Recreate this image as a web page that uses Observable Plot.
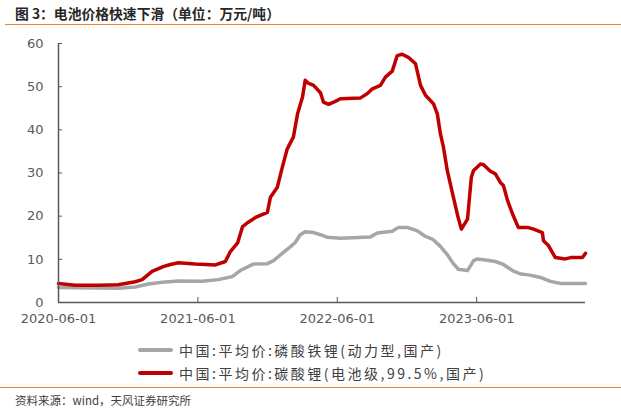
<!DOCTYPE html>
<html>
<head>
<meta charset="utf-8">
<script src="https://cdn.jsdelivr.net/npm/d3@7"></script>
<script src="https://cdn.jsdelivr.net/npm/@observablehq/plot@0.6"></script>
<style>
  html, body { margin: 0; padding: 0; background: #fff; }
  body { position: relative; width: 621px; height: 414px; overflow: hidden; font-family: "Noto Sans CJK SC", sans-serif; }
  #title { position: absolute; left: 15px; top: 3px; font-size: 13.8px; font-weight: bold; color: #262626; white-space: nowrap; }
  #topline { position: absolute; left: 5px; right: 0; top: 24px; height: 0; border-top: 1.5px solid #E8842F; }
  #chart { position: absolute; left: 0; top: 27px; }
  .leg { position: absolute; left: 138px; height: 20px; display: flex; align-items: center; white-space: nowrap; }
  .sw { width: 35px; height: 4px; margin-right: 6px; border-radius: 2px; }
  .lt { font-size: 14px; letter-spacing: 2.5px; color: #404040; }
  #botline { position: absolute; left: 0; right: 0; top: 387px; height: 0; border-top: 1.5px solid #E8842F; }
  #source { position: absolute; left: 15px; top: 392px; font-size: 11.5px; color: #404040; white-space: nowrap; }
</style>
</head>
<body>
<div id="title">图 3：电池价格快速下滑（单位：万元/吨）</div>
<div id="topline"></div>
<div id="chart"></div>
<div class="leg" style="top:340px"><div class="sw" style="background:#A6A6A6"></div><span class="lt" id="l1"></span></div>
<div class="leg" style="top:363px"><div class="sw" style="background:#C00000"></div><span class="lt" id="l2"></span></div>
<div id="botline"></div>
<div id="source">资料来源：wind，天风证券研究所</div>
<script>
// ---- data ----
const seriesNames = ["中国:平均价:磷酸铁锂(动力型,国产)", "中国:平均价:碳酸锂(电池级,99.5%,国产)"];
const seriesColors = ["#A6A6A6", "#C00000"];

const lfpDates = ["2020-06-01","2020-11-04","2020-12-19","2021-01-22","2021-02-28","2021-04-11","2021-06-12","2021-07-24","2021-08-30","2021-09-20","2021-10-24","2021-11-30","2021-12-16","2022-01-11","2022-01-29","2022-02-11","2022-02-24","2022-03-09","2022-03-31","2022-04-18","2022-05-06","2022-06-09","2022-08-27","2022-09-14","2022-10-23","2022-11-08","2022-12-01","2022-12-28","2023-01-18","2023-02-05","2023-02-26","2023-03-16","2023-04-01","2023-04-14","2023-05-08","2023-05-24","2023-06-03","2023-06-29","2023-07-20","2023-08-08","2023-09-03","2023-09-24","2023-10-15","2023-11-15","2023-12-11","2024-01-07","2024-03-12"];
const lfpValues = [3.5,3.3,3.6,4.3,4.7,5.0,4.9,5.3,6.0,7.4,8.9,9.0,9.7,11.6,12.9,13.9,15.7,16.4,16.2,15.7,15.1,14.9,15.2,16.1,16.5,17.4,17.4,16.6,15.3,14.7,13.0,11.1,9.0,7.7,7.4,9.7,10.1,9.8,9.5,8.9,7.4,6.6,6.4,5.8,4.9,4.4,4.4];

const lcDates = ["2020-06-01","2020-07-15","2020-09-18","2020-11-04","2020-12-19","2021-01-06","2021-02-01","2021-03-02","2021-03-21","2021-04-11","2021-05-25","2021-07-17","2021-08-12","2021-08-25","2021-09-13","2021-09-26","2021-10-11","2021-10-30","2021-11-30","2021-12-08","2021-12-26","2022-01-08","2022-01-21","2022-02-06","2022-02-17","2022-03-02","2022-03-09","2022-03-17","2022-03-31","2022-04-18","2022-04-26","2022-05-09","2022-05-27","2022-06-09","2022-08-01","2022-08-19","2022-09-01","2022-09-22","2022-10-05","2022-10-23","2022-11-05","2022-11-18","2022-12-04","2022-12-23","2023-01-05","2023-01-18","2023-02-08","2023-02-18","2023-02-26","2023-03-06","2023-03-16","2023-04-01","2023-04-14","2023-04-22","2023-05-08","2023-05-18","2023-05-24","2023-06-11","2023-06-19","2023-07-07","2023-07-20","2023-08-02","2023-08-10","2023-08-21","2023-09-03","2023-09-18","2023-10-12","2023-10-28","2023-11-20","2023-11-23","2023-12-06","2023-12-24","2024-01-19","2024-02-02","2024-03-04","2024-03-12"];
const lcValues = [4.4,4.0,4.0,4.1,4.8,5.3,7.2,8.3,8.8,9.2,8.9,8.7,9.5,11.8,13.8,17.6,18.6,19.7,20.9,24.4,26.7,31.3,35.6,38.3,43.7,47.6,51.5,50.8,50.3,48.6,46.4,45.9,46.6,47.2,47.4,48.4,49.5,50.3,52.2,53.6,57.2,57.5,56.8,55.3,50.3,48.0,46.0,43.7,39.1,36.0,30.6,24.4,19.5,17.0,19.3,29.0,30.6,32.1,31.9,30.4,29.8,27.8,27.1,23.6,20.5,17.4,17.4,17.0,16.2,14.3,13.2,10.4,10.1,10.4,10.4,11.4];

const xTickLabels = ["2020-06-01","2021-06-01","2022-06-01","2023-06-01"];
const yTickValues = [0,10,20,30,40,50,60];
const xStart = "2020-06-01", xEnd = "2024-03-12";

// ---- build ----
const parse = d3.utcParse("%Y-%m-%d");
const lfp = lfpDates.map((d, i) => ({date: parse(d), value: lfpValues[i]}));
const lc = lcDates.map((d, i) => ({date: parse(d), value: lcValues[i]}));
const xTicks = xTickLabels.map(parse);
const axisColor = "#595959";

const chart = Plot.plot({
  width: 621,
  height: 305,
  marginLeft: 58,
  marginRight: 36,
  marginTop: 16,
  marginBottom: 30,
  x: {type: "utc", domain: [parse(xStart), parse(xEnd)], label: null},
  y: {domain: [0, 60], label: null},
  style: {fontFamily: "DejaVu Sans", fontSize: "13px", color: axisColor, background: "white"},
  marks: [
    Plot.axisY({ticks: yTickValues, tickSize: 0, tickPadding: 15, label: null, fill: axisColor}),
    Plot.axisY({ticks: yTickValues, tickSize: 4, dx: 4, text: null, label: null, stroke: axisColor}),
    Plot.axisX({ticks: xTicks, tickSize: 0, tickPadding: 11, label: null, tickFormat: d3.utcFormat("%Y-%m-%d"), fill: axisColor}),
    Plot.axisX({ticks: xTicks, tickSize: 5, dy: -5, text: null, label: null, stroke: axisColor}),
    Plot.line(lfp, {x: "date", y: "value", stroke: seriesColors[0], strokeWidth: 3.5, strokeLinejoin: "round"}),
    Plot.line(lc, {x: "date", y: "value", stroke: seriesColors[1], strokeWidth: 3.5, strokeLinejoin: "round"}),
    Plot.ruleX([parse(xStart)], {y1: 0, y2: 60, stroke: axisColor, strokeWidth: 1.5}),
    Plot.ruleY([0], {stroke: axisColor, strokeWidth: 1.5})
  ]
});
document.getElementById("chart").appendChild(chart);
document.getElementById("l1").textContent = seriesNames[0];
document.getElementById("l2").textContent = seriesNames[1];
</script>
</body>
</html>
